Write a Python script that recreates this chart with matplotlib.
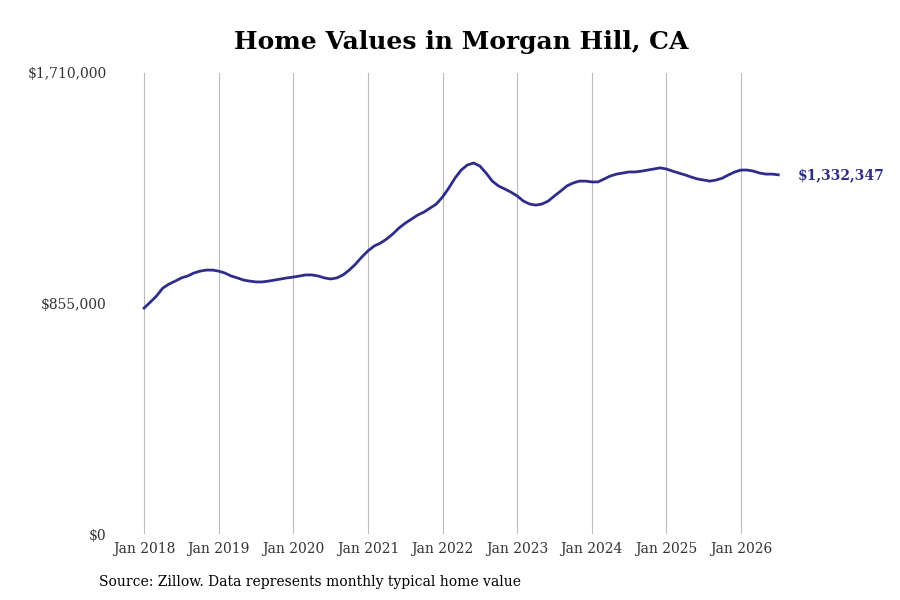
import numpy as np
import matplotlib.pyplot as plt

plt.rcParams['font.family'] = ['DejaVu Serif']

# monthly typical home value, Jan 2018 .. Jul 2026 (thousands of $)
values_k = [
    838, 860, 883, 912, 927, 938, 950, 957, 968, 975, 979, 979,
    975, 968, 957, 950, 942, 938, 935, 935, 938, 942, 946, 950,
    953, 957, 961, 961, 957, 950, 946, 950, 961, 979, 1001, 1027,
    1050, 1068, 1079, 1094, 1113, 1135, 1153, 1168, 1183, 1194, 1209, 1224,
    1250, 1283, 1320, 1350, 1369, 1376, 1365, 1339, 1309, 1291, 1280, 1268,
    1254, 1235, 1224, 1220, 1224, 1235, 1254, 1272, 1291, 1302, 1309, 1309,
    1306, 1306, 1317, 1328, 1335, 1339, 1343, 1343, 1346, 1350, 1354, 1358,
    1354, 1346, 1339, 1332, 1324, 1317, 1313, 1309, 1313, 1320, 1332, 1343,
    1350, 1350, 1346, 1339, 1335, 1335, 1332.347,
]
values = np.array(values_k) * 1000
months = 2018 + np.arange(len(values)) / 12
tick_years = list(range(2018, 2027))
tick_labels = [f"Jan {y}" for y in tick_years]
y_ticks = [0, 855000, 1710000]
y_labels = ["$0", "$855,000", "$1,710,000"]
color = '#2e2e8a'

fig = plt.figure(figsize=(9, 6), dpi=100)
ax = fig.add_axes([115 / 900, 66 / 600, 670 / 900, 461 / 600])
ax.plot(months, values, color=color, lw=2)
ax.set_xlim(2017.61, 2026.59)
ax.set_ylim(0, 1710000)
ax.set_xticks(tick_years)
ax.set_xticklabels(tick_labels, fontsize=10, color='#333333')
ax.set_yticks(y_ticks)
ax.set_yticklabels(y_labels, fontsize=10, color='#333333')
ax.grid(axis='x', color='#bbbbbb', lw=0.8)
ax.tick_params(length=0, pad=6)
for s in ax.spines.values():
    s.set_visible(False)

ax.annotate(f"${values[-1]:,.0f}", (months[-1], values[-1]), xytext=(14, 0),
            textcoords='offset points', va='center', ha='left',
            fontsize=10, fontweight='bold', color=color, annotation_clip=False)

fig.text(0.513, 0.93, "Home Values in Morgan Hill, CA", ha='center', va='center',
         fontsize=18, fontweight='bold')
fig.text(99 / 900, 0.03, "Source: Zillow. Data represents monthly typical home value",
         fontsize=10, va='center')
fig.savefig('out.png')
